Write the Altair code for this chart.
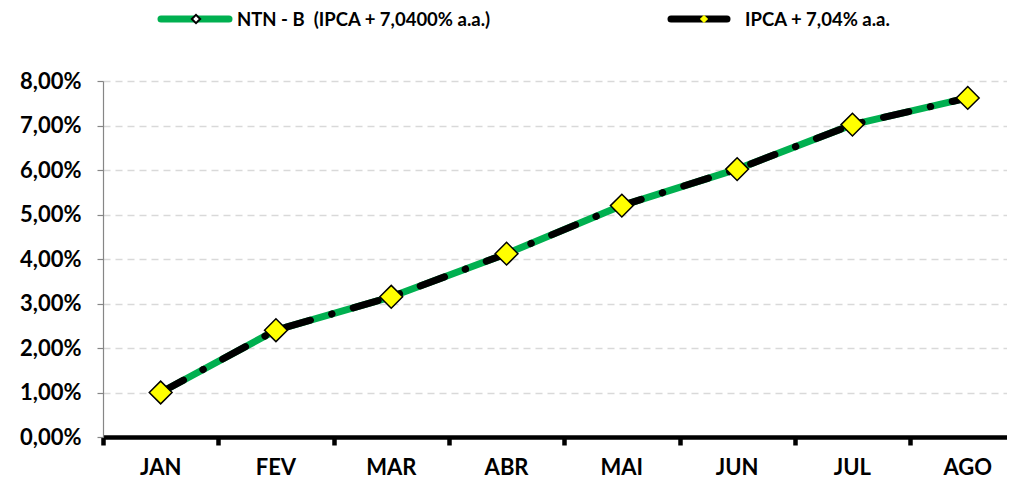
import altair as alt
import pandas as pd

# ---- data ----
months = ["JAN", "FEV", "MAR", "ABR", "MAI", "JUN", "JUL", "AGO"]
ntnb = [1.00, 2.40, 3.15, 4.12, 5.20, 6.02, 7.02, 7.62]
ipca = [1.00, 2.40, 3.15, 4.12, 5.20, 6.02, 7.02, 7.62]
y_ticks = [0, 1, 2, 3, 4, 5, 6, 7, 8]
legend_ntnb = ["NTN - B \u00a0(IPCA + 7,0400% a.a.)"]
legend_ipca = ["IPCA + 7,04% a.a."]

idx = list(range(len(months)))
df = pd.DataFrame({"idx": idx, "month": months, "ntnb": ntnb, "ipca": ipca})
boundaries = [i - 0.5 for i in idx]

W, H = 904, 356
STEP = 115.3
FONT = "Lato"
GREEN = "#00b050"
YELLOW = "#ffff00"

x_scale = alt.Scale(domain=[-0.5, -0.5 + W / STEP], nice=False, zero=False)
y_scale = alt.Scale(domain=[0, 8], nice=False, zero=True)

x_axis = alt.Axis(values=boundaries, labels=False, title=None, grid=False,
                  domainColor="black", domainWidth=4.5, tickColor="black",
                  tickWidth=4.5, tickSize=8)
y_axis = alt.Axis(values=y_ticks, title=None,
                  labelExpr="replace(format(datum.value, '.2f'), '.', ',') + '%'",
                  labelFont=FONT, labelFontSize=22, labelFontWeight="bold",
                  labelColor="black", labelPadding=16,
                  domainColor="#868686", domainWidth=1.2,
                  tickColor="#868686", tickSize=6, tickWidth=1.2,
                  grid=True, gridColor="#d9d9d9", gridDash=[7, 5], gridWidth=1.5)

X = alt.X("idx:Q", scale=x_scale, axis=x_axis)

base = alt.Chart(df)

green_line = base.mark_line(color=GREEN, strokeWidth=7, strokeCap="round",
                            strokeJoin="round").encode(
    x=X, y=alt.Y("ntnb:Q", scale=y_scale, axis=y_axis))

black_line = base.mark_line(color="black", strokeWidth=7, strokeCap="round",
                            strokeDash=[26, 22, 0.5, 22]).encode(
    x=X, y=alt.Y("ipca:Q", scale=y_scale, axis=y_axis))

points = base.mark_point(shape="diamond", filled=True, fill=YELLOW, stroke="black",
                         strokeWidth=1.5, size=520, opacity=1).encode(
    x=X, y=alt.Y("ipca:Q", scale=y_scale, axis=y_axis))

month_labels = base.mark_text(font=FONT, fontSize=22, fontWeight="bold",
                              baseline="middle", align="center", color="black").encode(
    x=X, y=alt.value(H + 31), text="month:N")

# ---- manual legend ----
leg1 = alt.Chart(pd.DataFrame({"label": legend_ntnb}))
leg2 = alt.Chart(pd.DataFrame({"label": legend_ipca}))
LY = -62

leg1_line = leg1.mark_rule(color=GREEN, strokeWidth=7, strokeCap="round").encode(
    x=alt.value(58), x2=alt.value(126), y=alt.value(LY))
leg1_pt = leg1.mark_point(shape="diamond", filled=True, fill="white", stroke="black",
                          strokeWidth=2, size=70, opacity=1).encode(
    x=alt.value(93), y=alt.value(LY))
leg1_txt = leg1.mark_text(font=FONT, fontSize=18.5, fontWeight="bold", align="left",
                          baseline="middle", color="black").encode(
    x=alt.value(134), y=alt.value(LY + 1), text="label:N")

leg2_line = leg2.mark_rule(color="black", strokeWidth=7, strokeCap="round").encode(
    x=alt.value(568), x2=alt.value(624), y=alt.value(LY))
leg2_pt = leg2.mark_point(shape="diamond", filled=True, fill=YELLOW, stroke=YELLOW,
                          strokeWidth=0.5, size=60, opacity=1).encode(
    x=alt.value(601), y=alt.value(LY))
leg2_txt = leg2.mark_text(font=FONT, fontSize=18.5, fontWeight="bold", align="left",
                          baseline="middle", color="black").encode(
    x=alt.value(642), y=alt.value(LY + 1), text="label:N")

chart = alt.layer(
    green_line, black_line, points, month_labels,
    leg1_line, leg1_pt, leg1_txt, leg2_line, leg2_pt, leg2_txt
).properties(
    width=W, height=H,
    autosize=alt.AutoSizeParams(type="none"),
    padding={"left": 95, "top": 73, "right": 0, "bottom": 44},
    background="white",
).configure_view(stroke=None)

chart.save("out.html", embed_options={"renderer": "svg", "actions": False})
